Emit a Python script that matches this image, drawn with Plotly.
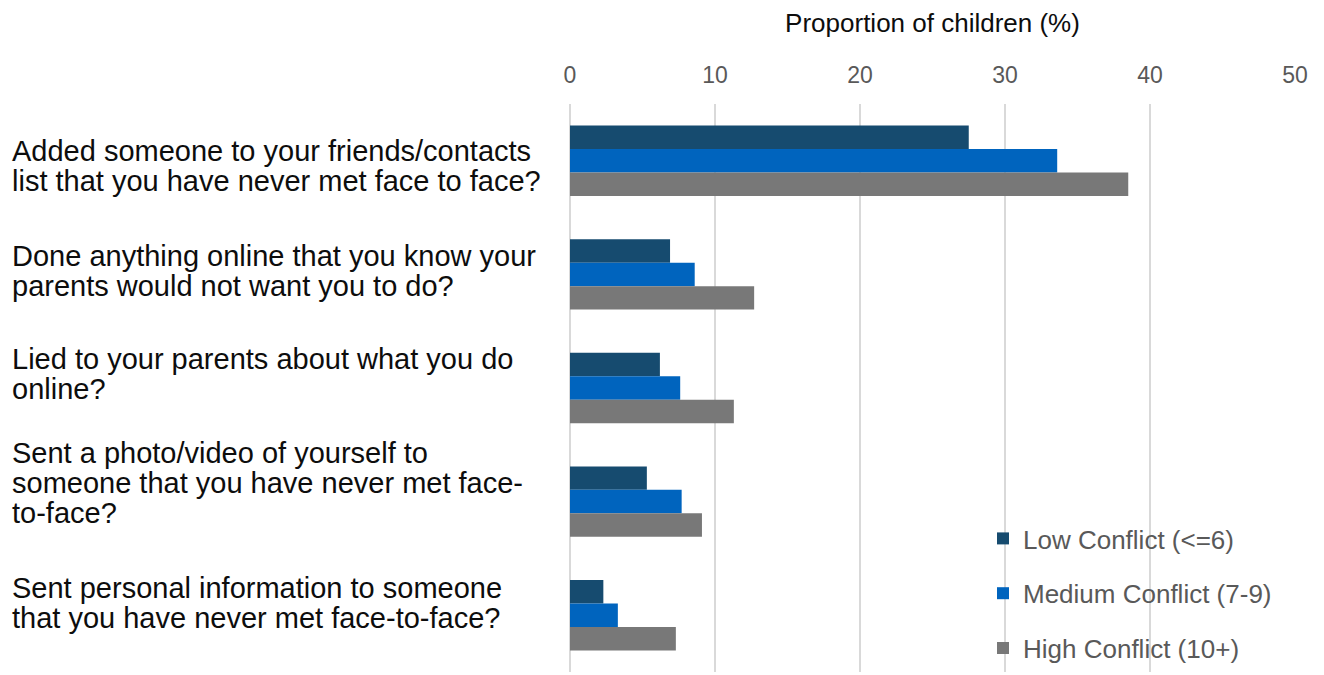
import plotly.graph_objects as go

categories = [
    "Added someone to your friends/contacts<br>list that you have never met face to face?",
    "Done anything online that you know your<br>parents would not want you to do?",
    "Lied to your parents about what you do<br>online?",
    "Sent a photo/video of yourself to<br>someone that you have never met face-<br>to-face?",
    "Sent personal information to someone<br>that you have never met face-to-face?",
]
series_names = ["Low Conflict (<=6)", "Medium Conflict (7-9)", "High Conflict (10+)"]
low_values = [27.5, 6.9, 6.2, 5.3, 2.3]
medium_values = [33.6, 8.6, 7.6, 7.7, 3.3]
high_values = [38.5, 12.7, 11.3, 9.1, 7.3]
colors = ["#164B6F", "#0064BE", "#787878"]
x_ticks = [0, 10, 20, 30, 40, 50]

# label placement style (pixel offsets down from category centre, line spacing)
label_offsets = [5, -3, -14, -19, -12]
line_gap = 30

W, H = 1324, 675
L, R, T, B = 570, 29, 104, 3
FONT = "Liberation Sans, Arial, sans-serif"

fig = go.Figure()
for i, (name, vals) in enumerate(zip(series_names, [low_values, medium_values, high_values])):
    fig.add_trace(go.Bar(
        y=categories, x=vals, name=name, orientation="h",
        marker=dict(color=colors[i], line=dict(width=0)),
        legendgroup=str(i),
    ))

pw = W - L - R
for c, off in zip(categories, label_offsets):
    lines = c.split("<br>")
    n = len(lines)
    for j, ln in enumerate(lines):
        fig.add_annotation(
            x=(10 - L) / pw, xref="paper", y=c, yref="y",
            text=ln, showarrow=False, xanchor="left", align="left",
            yanchor="middle",
            yshift=-off - (j - (n - 1) / 2) * line_gap,
            font=dict(family=FONT, size=29, color="#0d0d0d"),
        )

fig.update_layout(
    width=W, height=H,
    margin=dict(l=L, r=R, t=T, b=B),
    paper_bgcolor="white", plot_bgcolor="white",
    barmode="group", bargap=0.38, bargroupgap=0,
    font=dict(family=FONT, color="#595959"),
    legend=dict(
        x=(983 - L) / pw, xanchor="left", y=0, yanchor="bottom",
        font=dict(size=26, color="#595959"), traceorder="grouped",
        tracegroupgap=18, bgcolor="rgba(255,255,255,0)",
    ),
    xaxis=dict(
        side="top", range=[0, 50], tickvals=x_ticks,
        showgrid=True, gridcolor="#d9d9d9", gridwidth=2,
        zeroline=True, zerolinecolor="#d9d9d9", zerolinewidth=2,
        showline=False, ticks="", ticklabelstandoff=15,
        tickfont=dict(size=23, color="#595959"),
        title=dict(text="Proportion of children (%)", font=dict(size=26, color="#0d0d0d"), standoff=22),
    ),
    yaxis=dict(
        autorange="reversed", showticklabels=False, ticks="",
        showgrid=False, zeroline=False, showline=False,
    ),
)

fig.write_html("out.html")
